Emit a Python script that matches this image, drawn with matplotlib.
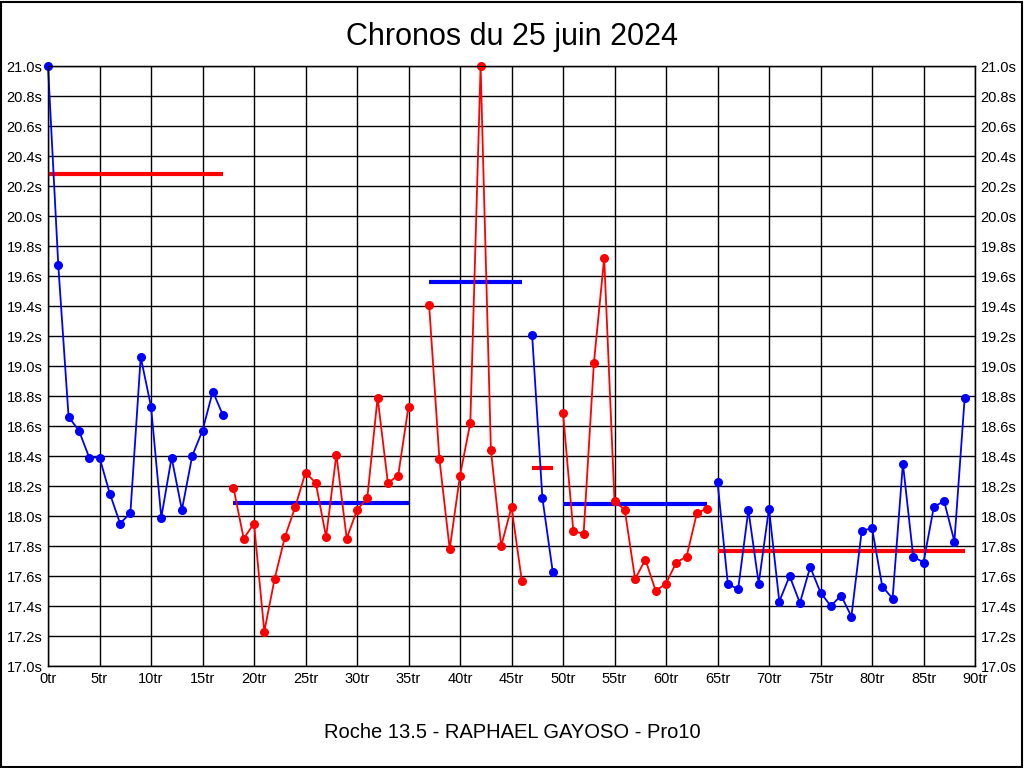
import matplotlib.pyplot as plt
from matplotlib.patches import Rectangle
from matplotlib import font_manager

# lap times, one list per run segment
laps_a = list(range(0, 18))
times_a = [21.00, 19.67, 18.66, 18.57, 18.39, 18.39, 18.15, 17.95, 18.02,
           19.06, 18.73, 17.99, 18.39, 18.04, 18.40, 18.57, 18.83, 18.67]
laps_b = list(range(18, 36))
times_b = [18.19, 17.85, 17.95, 17.23, 17.58, 17.86, 18.06, 18.29, 18.22,
           17.86, 18.41, 17.85, 18.04, 18.12, 18.79, 18.22, 18.27, 18.73]
laps_c = list(range(37, 47))
times_c = [19.41, 18.38, 17.78, 18.27, 18.62, 21.00, 18.44, 17.80, 18.06, 17.57]
laps_d = list(range(47, 50))
times_d = [19.21, 18.12, 17.63]
laps_e = list(range(50, 65))
times_e = [18.69, 17.90, 17.88, 19.02, 19.72, 18.10, 18.04, 17.58, 17.71,
           17.50, 17.55, 17.69, 17.73, 18.02, 18.05]
laps_f = list(range(65, 90))
times_f = [18.23, 17.55, 17.51, 18.04, 17.55, 18.05, 17.43, 17.60, 17.42,
           17.66, 17.49, 17.40, 17.47, 17.33, 17.90, 17.92, 17.53, 17.45,
           18.35, 17.73, 17.69, 18.06, 18.10, 17.83, 18.79]

segments = [(laps_a, times_a), (laps_b, times_b), (laps_c, times_c),
            (laps_d, times_d), (laps_e, times_e), (laps_f, times_f)]
line_colors = ['#0000ff', '#ff0000', '#ff0000', '#0000ff', '#ff0000', '#0000ff']
avg_colors = ['#ff0000', '#0000ff', '#0000ff', '#ff0000', '#0000ff', '#ff0000']
averages = [20.28, 18.085, 19.56, 18.32, 18.08, 17.765]

title = 'Chronos du 25 juin 2024'
subtitle = 'Roche 13.5 - RAPHAEL GAYOSO - Pro10'

names = {f.name for f in font_manager.fontManager.ttflist}
tick_font = 'Liberation Sans Narrow' if 'Liberation Sans Narrow' in names else 'Liberation Sans'
plt.rcParams['font.family'] = ['Liberation Sans', 'DejaVu Sans']

fig = plt.figure(figsize=(10.24, 7.68), dpi=100)
ax = fig.add_axes([48 / 1024, 1 - 666 / 768, 927 / 1024, 600 / 768])

for (x, y), c in zip(segments, line_colors):
    ax.plot(x, y, color=c, lw=1.3, marker='o', ms=5.5, mec=c, mfc=c,
            zorder=3, clip_on=False)

for (x, y), c, avg in zip(segments, avg_colors, averages):
    ax.hlines(avg, x[0], x[-1], color=c, lw=3, zorder=2)

ax.set_xlim(0, 90)
ax.set_ylim(17.0, 21.0)
xt = list(range(0, 91, 5))
yt = [17.0 + 0.2 * i for i in range(21)]
ax.set_xticks(xt)
ax.set_xticklabels([f'{v}tr' for v in xt], fontfamily=tick_font, fontsize=10.5)
ax.set_yticks(yt)
ax.set_yticklabels([f'{v:.1f}s' for v in yt], fontfamily=tick_font, fontsize=10.5)
ax.tick_params(length=0, pad=4)
ax.grid(True, color='black', lw=1)
ax.set_axisbelow(True)
for s in ax.spines.values():
    s.set_color('black')
    s.set_linewidth(1)

ax2 = ax.twinx()
ax2.set_ylim(17.0, 21.0)
ax2.set_yticks(yt)
ax2.set_yticklabels([f'{v:.1f}s' for v in yt], fontfamily=tick_font, fontsize=10.5)
ax2.tick_params(length=0, pad=4)

fig.text(0.5, 1 - 37 / 768, title, ha='center', va='center', fontsize=22)
fig.text(0.5, 1 - 733 / 768, subtitle, ha='center', va='center', fontsize=14.5)
fig.patches.append(Rectangle((0.001, 0.001), 0.997, 0.997, transform=fig.transFigure,
                             fill=False, edgecolor='black', lw=1.5))

fig.savefig('out.png', dpi=100)
